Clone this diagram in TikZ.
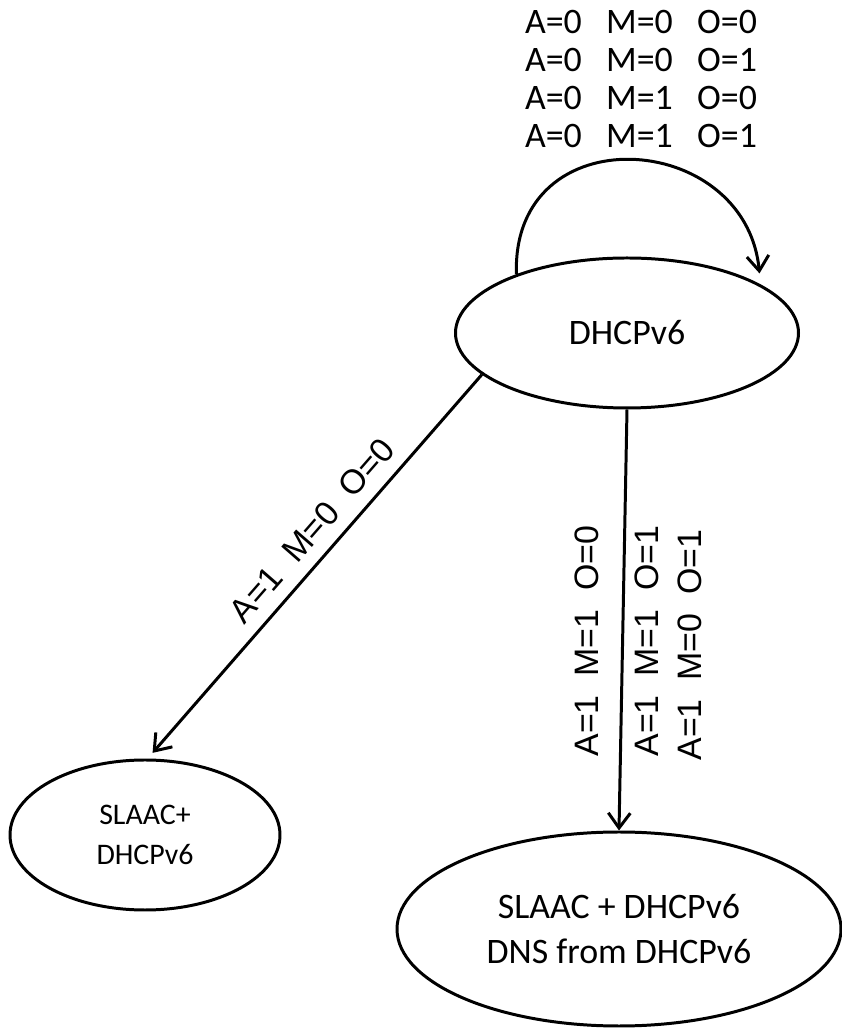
\documentclass[tikz,border=0pt]{standalone}
\usepackage{fontspec}
\setmainfont{Carlito}
\newfontfamily\condfont{Liberation Sans}
\usetikzlibrary{shapes.geometric, arrows.meta, positioning}

\begin{document}
\begin{tikzpicture}[line width=1.7pt,
 state node/.style={ellipse,draw,inner sep=0pt,align=center,on grid},
 cond/.style={font=\condfont\fontsize{19.3}{22}\selectfont,inner sep=0pt},
 arr/.style={-{Straight Barb[length=0.3cm,width=0.44cm]}}]

  \useasboundingbox (0,0) rectangle (16.82,20.58);

  \node[state node,minimum width=6.86cm,minimum height=3cm,
   font=\fontsize{20.4}{25}\selectfont] (dhcp) at (12.54,13.92) {DHCPv6};
  \node[state node,minimum width=5.4cm,minimum height=3cm,
   font=\fontsize{17}{22.7}\selectfont] (slaac) [below left=10.04cm and 9.64cm of dhcp] {SLAAC+\\DHCPv6};
  \node[state node,minimum width=8.88cm,minimum height=3.88cm,
   font=\fontsize{20.4}{25.5}\selectfont] (dns) [below left=11.92cm and 0.16cm of dhcp] {SLAAC + DHCPv6\\DNS from DHCPv6};

  \node[align=center,inner sep=0pt,on grid,font=\fontsize{20.4}{21.6}\selectfont]
   (loop label) [above right=5.08cm and 0.28cm of dhcp]
   {A=0~~~M=0~~~O=0\\A=0~~~M=0~~~O=1\\A=0~~~M=1~~~O=0\\A=0~~~M=1~~~O=1};

  \draw[arr,shorten >=0.22cm] (dhcp.152) .. controls +(-0.1,3.2) and +(-0.3,3.1) .. (dhcp.20);

  \path[draw,arr,shorten >=0.15cm] (dhcp.196) --
   node[cond,sloped,above=0.25cm,pos=0.45] (diag label) {A=1~~M=0~~O=0} (slaac.88);

  \draw[arr] (dhcp.south) -- (dns.north);

  \foreach \n/\m/\o/\dx/\dy in {1/1/0/-0.8/-6.16, 2/1/1/0.4/-6.16, 3/0/1/1.26/-6.24} {
   \node[cond,rotate=90] (cond\n) at ([shift={(\dx,\dy)}]dhcp.center) {A=1~~M=\m~~O=\o};}
\end{tikzpicture}
\end{document}
